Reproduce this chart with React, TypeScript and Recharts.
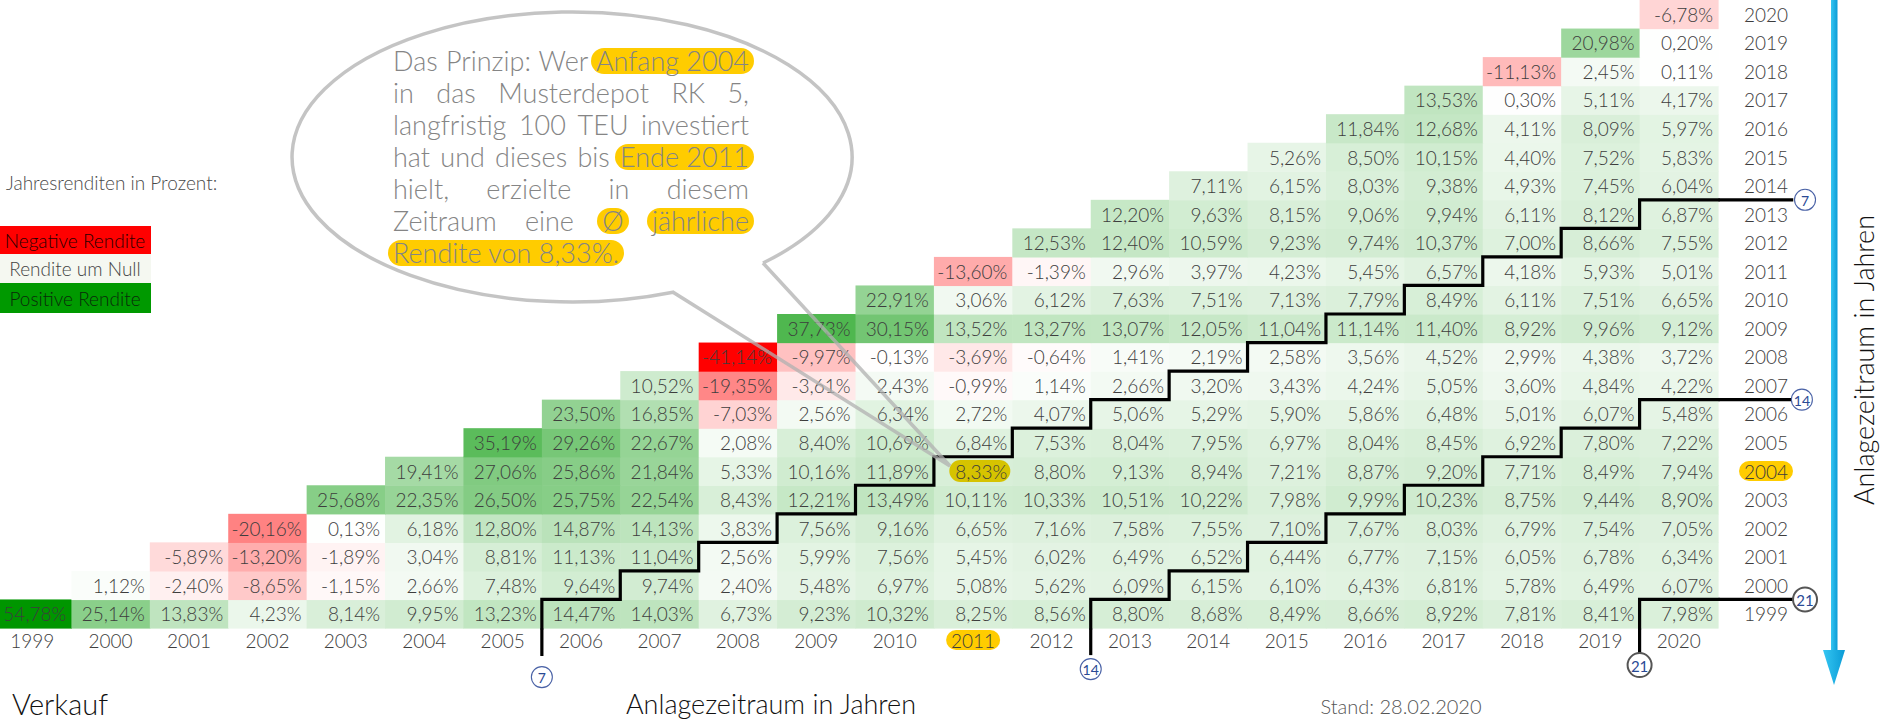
import type {ReactElement} from 'react';
import {ScatterChart, Scatter, XAxis, YAxis, ReferenceLine, ReferenceDot} from 'recharts';

// sell year on the x axis, buy year on the y axis
const sellYears = [1999, 2000, 2001, 2002, 2003, 2004, 2005, 2006, 2007, 2008, 2009, 2010, 2011, 2012, 2013, 2014, 2015, 2016, 2017, 2018, 2019, 2020];
const buyYears = [1999, 2000, 2001, 2002, 2003, 2004, 2005, 2006, 2007, 2008, 2009, 2010, 2011, 2012, 2013, 2014, 2015, 2016, 2017, 2018, 2019, 2020];

// average yearly return in % for one buy year, sell years from the buy year up to 2020
const r1999 = [54.78, 25.14, 13.83, 4.23, 8.14, 9.95, 13.23, 14.47, 14.03, 6.73, 9.23, 10.32, 8.25, 8.56, 8.80, 8.68, 8.49, 8.66, 8.92, 7.81, 8.41, 7.98];
const r2000 = [1.12, -2.40, -8.65, -1.15, 2.66, 7.48, 9.64, 9.74, 2.40, 5.48, 6.97, 5.08, 5.62, 6.09, 6.15, 6.10, 6.43, 6.81, 5.78, 6.49, 6.07];
const r2001 = [-5.89, -13.20, -1.89, 3.04, 8.81, 11.13, 11.04, 2.56, 5.99, 7.56, 5.45, 6.02, 6.49, 6.52, 6.44, 6.77, 7.15, 6.05, 6.78, 6.34];
const r2002 = [-20.16, 0.13, 6.18, 12.80, 14.87, 14.13, 3.83, 7.56, 9.16, 6.65, 7.16, 7.58, 7.55, 7.10, 7.67, 8.03, 6.79, 7.54, 7.05];
const r2003 = [25.68, 22.35, 26.50, 25.75, 22.54, 8.43, 12.21, 13.49, 10.11, 10.33, 10.51, 10.22, 7.98, 9.99, 10.23, 8.75, 9.44, 8.90];
const r2004 = [19.41, 27.06, 25.86, 21.84, 5.33, 10.16, 11.89, 8.33, 8.80, 9.13, 8.94, 7.21, 8.87, 9.20, 7.71, 8.49, 7.94];
const r2005 = [35.19, 29.26, 22.67, 2.08, 8.40, 10.69, 6.84, 7.53, 8.04, 7.95, 6.97, 8.04, 8.45, 6.92, 7.80, 7.22];
const r2006 = [23.50, 16.85, -7.03, 2.56, 6.34, 2.72, 4.07, 5.06, 5.29, 5.90, 5.86, 6.48, 5.01, 6.07, 5.48];
const r2007 = [10.52, -19.35, -3.61, 2.43, -0.99, 1.14, 2.66, 3.20, 3.43, 4.24, 5.05, 3.60, 4.84, 4.22];
const r2008 = [-41.14, -9.97, -0.13, -3.69, -0.64, 1.41, 2.19, 2.58, 3.56, 4.52, 2.99, 4.38, 3.72];
const r2009 = [37.73, 30.15, 13.52, 13.27, 13.07, 12.05, 11.04, 11.14, 11.40, 8.92, 9.96, 9.12];
const r2010 = [22.91, 3.06, 6.12, 7.63, 7.51, 7.13, 7.79, 8.49, 6.11, 7.51, 6.65];
const r2011 = [-13.60, -1.39, 2.96, 3.97, 4.23, 5.45, 6.57, 4.18, 5.93, 5.01];
const r2012 = [12.53, 12.40, 10.59, 9.23, 9.74, 10.37, 7.00, 8.66, 7.55];
const r2013 = [12.20, 9.63, 8.15, 9.06, 9.94, 6.11, 8.12, 6.87];
const r2014 = [7.11, 6.15, 8.03, 9.38, 4.93, 7.45, 6.04];
const r2015 = [5.26, 8.50, 10.15, 4.40, 7.52, 5.83];
const r2016 = [11.84, 12.68, 4.11, 8.09, 5.97];
const r2017 = [13.53, 0.30, 5.11, 4.17];
const r2018 = [-11.13, 2.45, 0.11];
const r2019 = [20.98, 0.20];
const r2020 = [-6.78];

const rows = [r1999, r2000, r2001, r2002, r2003, r2004, r2005, r2006, r2007, r2008, r2009, r2010, r2011, r2012, r2013, r2014, r2015, r2016, r2017, r2018, r2019, r2020];

const holdingPeriods = [7, 14, 21];
const exampleBuy = 2004;
const exampleSell = 2011;

type TCell = {sell: number; buy: number; v: number};

const cells: TCell[] = rows.flatMap((vals, i) => vals.map((v, j) => ({sell: buyYears[i] + j, buy: buyYears[i], v})));

// layout of the plot (cells fill it exactly)
const CHART_W = 1890;
const CHART_H = 721;
const Y_AXIS_W = 100;
const X_AXIS_H = 30;
const MARGIN = {top: 0, left: 0, right: 65, bottom: 63};
const PLOT_W = CHART_W - MARGIN.left - MARGIN.right - Y_AXIS_W;
const PLOT_H = CHART_H - MARGIN.top - MARGIN.bottom - X_AXIS_H;
const CW = PLOT_W / sellYears.length;
const CH = PLOT_H / buyYears.length;

const FONT = 'Lato, "Noto Sans", sans-serif';
const TEXT = '#3d3d3d';

const maxV = Math.max(...cells.map((c) => c.v));
const minV = Math.min(...cells.map((c) => c.v));

function cellColor(v: number): string {
	if (v >= 0) {
		const t = v / maxV;
		const rb = Math.round(255 * (1 - t));
		const g = Math.round(255 - 105 * t);
		return `rgb(${rb},${g},${rb})`;
	}
	const t = v / minV;
	const gb = Math.round(255 * (1 - t));
	return `rgb(255,${gb},${gb})`;
}

const fmt = (v: number): string => `${v.toFixed(2).replace('.', ',')}%`;

function HeatCell(props: any): ReactElement {
	const {cx, cy, payload} = props;
	const right = cx + CW / 2;
	const isExample = payload.buy === exampleBuy && payload.sell === exampleSell;
	return (
		<g>
			<rect x={cx - CW / 2} y={cy - CH / 2} width={CW + 0.6} height={CH + 0.6} fill={cellColor(payload.v)} />
			{isExample && <rect x={right - 63} y={cy - 11} width={61} height={22} rx={11} fill={'#d6c300'} />}
			<text x={right - 5} y={cy} textAnchor={'end'} dominantBaseline={'central'} fontSize={19} fontFamily={FONT} fontWeight={300} fill={TEXT}>
				{fmt(payload.v)}
			</text>
		</g>
	);
}

function XTick(props: any): ReactElement {
	const {x, y, payload} = props;
	const hl = payload.value === exampleSell;
	return (
		<g>
			{hl && <rect x={x - 27} y={y + 2} width={54} height={20} rx={10} fill={'#ffcc00'} />}
			<text x={x} y={y + 12} textAnchor={'middle'} dominantBaseline={'central'} fontSize={19} fontFamily={FONT} fontWeight={300} fill={TEXT}>
				{payload.value}
			</text>
		</g>
	);
}

function YTick(props: any): ReactElement {
	const {x, y, payload} = props;
	const hl = payload.value === exampleBuy;
	return (
		<g>
			{hl && <rect x={x + 21} y={y - 10} width={54} height={20} rx={10} fill={'#ffcc00'} />}
			<text x={x + 48} y={y} textAnchor={'middle'} dominantBaseline={'central'} fontSize={19} fontFamily={FONT} fontWeight={300} fill={TEXT}>
				{payload.value}
			</text>
		</g>
	);
}

// where the step lines leave the grid and where their number badges sit (data units)
const markEnds: Record<number, {lineBottom: number; badgeBottom: number; badgeRight: number}> = {
	7: {lineBottom: 1997.52, badgeBottom: 1996.78, badgeRight: 2021.61},
	14: {lineBottom: 1997.55, badgeBottom: 1997.06, badgeRight: 2021.57},
	21: {lineBottom: 1997.62, badgeBottom: 1997.2, badgeRight: 2021.61}
};
const LINE_RIGHT = 2021.46;
const GRID_MIN = 1998.5;
const GRID_MAX = 2020.5;

// staircase along the right edge of the cells held exactly n years, inside the grid
function stepPoints(n: number): {sell: number; buy: number}[] {
	const last = 2020 - n;
	const pts = [{sell: 1999 + n - 0.5, buy: GRID_MIN}];
	for (let r = 1999; r <= last; r++) {
		const xe = r + n - 0.5;
		pts.push({sell: xe, buy: r + 0.5});
		pts.push({sell: r === last ? GRID_MAX : xe + 1, buy: r + 0.5});
	}
	return pts;
}

function Badge({cx, cy, n}: {cx: number; cy: number; n: number}): ReactElement {
	const big = n === 21;
	return (
		<g>
			<circle cx={cx} cy={cy} r={big ? 12 : 10.5} fill={'#fff'} stroke={big ? '#555' : '#4a62a6'} strokeWidth={big ? 2 : 1.1} />
			<text x={cx} y={cy + 0.5} textAnchor={'middle'} dominantBaseline={'central'} fontSize={big ? 15 : 14} fontFamily={FONT} fill={'#2a4a95'}>
				{n}
			</text>
		</g>
	);
}

const hl = {display: 'inline-block', background: '#ffcc00', borderRadius: 13, lineHeight: '26px', padding: '0 5px', margin: '0 -5px'};
const just = {height: 32, textAlign: 'justify' as const, textAlignLast: 'justify' as const};

export default function App(): ReactElement {
	return (
		<div style={{position: 'fixed', left: 0, top: 0, width: 1883, height: 721, overflow: 'hidden', background: '#fff', fontFamily: FONT}}>
			<div style={{position: 'absolute', left: -7, top: 0}}>
				<ScatterChart width={CHART_W} height={CHART_H} margin={MARGIN}>
					<XAxis
						type={'number'}
						dataKey={'sell'}
						domain={[GRID_MIN, GRID_MAX]}
						ticks={sellYears}
						interval={0}
						height={X_AXIS_H}
						axisLine={false}
						tickLine={false}
						tickSize={0}
						tickMargin={0}
						tick={<XTick />}
					/>
					<YAxis
						type={'number'}
						dataKey={'buy'}
						orientation={'right'}
						domain={[GRID_MIN, GRID_MAX]}
						ticks={buyYears}
						interval={0}
						width={Y_AXIS_W}
						axisLine={false}
						tickLine={false}
						tickSize={0}
						tickMargin={0}
						tick={<YTick />}
					/>
					<Scatter data={cells} shape={(p: any) => <HeatCell {...p} />} isAnimationActive={false} />
					{holdingPeriods.map((n) => (
						<Scatter
							key={`step${n}`}
							data={stepPoints(n)}
							line={{stroke: '#000', strokeWidth: 3.2, strokeLinejoin: 'miter', strokeLinecap: 'square'}}
							lineType={'joint'}
							shape={() => <g />}
							isAnimationActive={false}
						/>
					))}
					{holdingPeriods.map((n) => (
						<ReferenceLine
							key={`down${n}`}
							segment={[{x: 1999 + n - 0.5, y: markEnds[n].lineBottom}, {x: 1999 + n - 0.5, y: GRID_MIN}]}
							stroke={'#000'}
							strokeWidth={3.2}
							ifOverflow={'visible'}
						/>
					))}
					{holdingPeriods.map((n) => (
						<ReferenceLine
							key={`right${n}`}
							segment={[{x: GRID_MAX, y: 2020 - n + 0.5}, {x: LINE_RIGHT, y: 2020 - n + 0.5}]}
							stroke={'#000'}
							strokeWidth={3.2}
							ifOverflow={'visible'}
						/>
					))}
					{holdingPeriods.map((n) => (
						<ReferenceDot
							key={`b${n}`}
							x={1999 + n - 0.5}
							y={markEnds[n].badgeBottom}
							r={11}
							ifOverflow={'visible'}
							shape={(p: any) => <Badge cx={p.cx} cy={p.cy} n={n} />}
						/>
					))}
					{holdingPeriods.map((n) => (
						<ReferenceDot
							key={`r${n}`}
							x={markEnds[n].badgeRight}
							y={2020 - n + 0.5}
							r={11}
							ifOverflow={'visible'}
							shape={(p: any) => <Badge cx={p.cx} cy={p.cy} n={n} />}
						/>
					))}
				</ScatterChart>
			</div>

			<svg width={1883} height={721} style={{position: 'absolute', left: 0, top: 0, pointerEvents: 'none'}}>
				<defs>
					<linearGradient id={'arrowBlue'} x1={'0'} x2={'1'} y1={'0'} y2={'0'}>
						<stop offset={'0'} stopColor={'#35c6f2'} />
						<stop offset={'1'} stopColor={'#0a9bd6'} />
					</linearGradient>
				</defs>
				{/* speech bubble */}
				<path d={'M 763 263 L 950 466 L 673 292.2 A 280 145 0 1 1 763 263'} fill={'none'} stroke={'#b0b0b0'} strokeOpacity={0.75} strokeWidth={3.5} />

				{/* legend */}
				<text x={6} y={190} fontSize={19} fontFamily={FONT} fontWeight={300} fill={'#4a4a4a'}>{'Jahresrenditen in Prozent:'}</text>
				<rect x={0} y={226} width={151} height={28} fill={'#ff0000'} />
				<text x={75} y={240} textAnchor={'middle'} dominantBaseline={'central'} fontSize={19} fontFamily={FONT} fontWeight={300} fill={'#2a0000'}>{'Negative Rendite'}</text>
				<rect x={0} y={254} width={151} height={29} fill={'#f5f8f1'} />
				<text x={75} y={268.5} textAnchor={'middle'} dominantBaseline={'central'} fontSize={19} fontFamily={FONT} fontWeight={300} fill={'#444'}>{'Rendite um Null'}</text>
				<rect x={0} y={283} width={151} height={30} fill={'#009900'} />
				<text x={75} y={298} textAnchor={'middle'} dominantBaseline={'central'} fontSize={19} fontFamily={FONT} fontWeight={300} fill={'#0a2a0a'}>{'Positive Rendite'}</text>

				{/* axis titles */}
				<text x={12} y={715} fontSize={29} fontFamily={FONT} fontWeight={300} fill={'#111'}>{'Verkauf'}</text>
				<text x={771} y={714} textAnchor={'middle'} fontSize={27} fontFamily={FONT} fontWeight={300} fill={'#111'}>{'Anlagezeitraum in Jahren'}</text>
				<text x={1401} y={714} textAnchor={'middle'} fontSize={20} fontFamily={FONT} fontWeight={300} fill={'#555'}>{'Stand: 28.02.2020'}</text>
				<text x={1874} y={360} transform={'rotate(-90 1874 360)'} textAnchor={'middle'} fontSize={27} fontFamily={FONT} fontWeight={300} fill={'#111'}>{'Anlagezeitraum in Jahren'}</text>

				{/* blue arrow */}
				<rect x={1831} y={0} width={6.5} height={651} fill={'url(#arrowBlue)'} />
				<polygon points={'1823,650 1845,650 1834,685'} fill={'url(#arrowBlue)'} />
			</svg>

			<div style={{position: 'absolute', left: 393, top: 45, width: 356, fontSize: 27, lineHeight: '32px', fontWeight: 300, color: '#858585'}}>
				<div style={just}>{'Das Prinzip: Wer '}<span style={hl}>{'Anfang 2004'}</span></div>
				<div style={just}>{'in das Musterdepot RK 5,'}</div>
				<div style={just}>{'langfristig 100 TEU investiert'}</div>
				<div style={just}>{'hat und dieses bis '}<span style={hl}>{'Ende 2011'}</span></div>
				<div style={just}>{'hielt, erzielte in diesem'}</div>
				<div style={just}>{'Zeitraum eine '}<span style={hl}>{'Ø'}</span>{' '}<span style={hl}>{'jährliche'}</span></div>
				<div style={{height: 32}}><span style={hl}>{'Rendite von 8,33%.'}</span></div>
			</div>
		</div>
	);
}
